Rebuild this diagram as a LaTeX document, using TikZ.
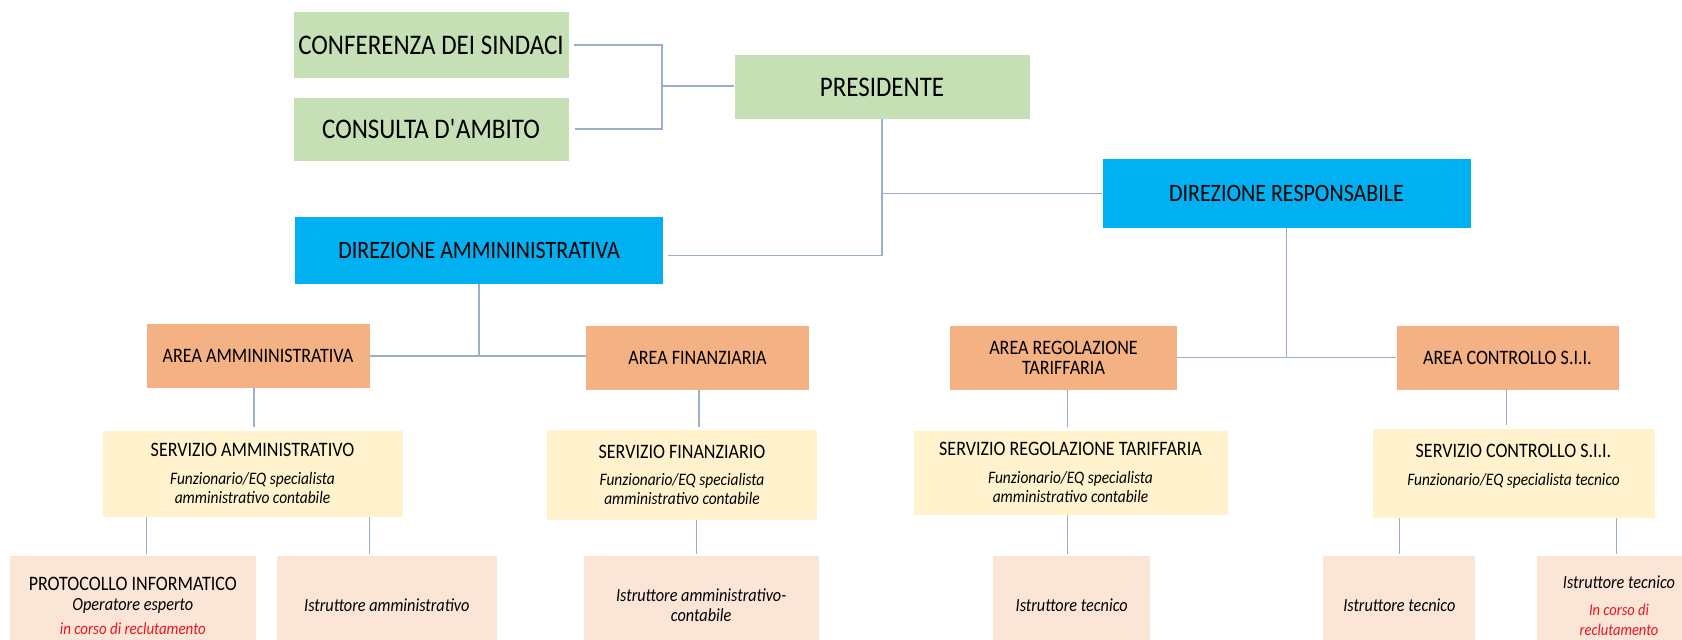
\documentclass[tikz,border=0pt]{standalone}
\usepackage{fontspec}
\setmainfont{Carlito}[FakeStretch=0.88]

\definecolor{verde}{HTML}{C5E0B4}
\definecolor{blu}{HTML}{00B0F0}
\definecolor{arancio}{HTML}{F4B183}
\definecolor{giallo}{HTML}{FFF2CC}
\definecolor{pesca}{HTML}{FBE5D6}
\definecolor{rosso}{HTML}{E8141E}
\definecolor{linea}{HTML}{9AAFC9}

\begin{document}
\begin{tikzpicture}[x=1pt, y=-1pt,
    box/.style={inner sep=0pt, align=center, text=black},
    verdebox/.style={box, fill=verde, minimum width=275, minimum height=66, font=\fontsize{28.4}{32}\selectfont},
    blubox/.style={box, fill=blu, minimum width=368, minimum height=67, font=\fontsize{25}{29}\selectfont},
    areabox/.style={box, fill=arancio, minimum width=223, minimum height=64, font=\fontsize{20.5}{20}\selectfont},
    servbox/.style={box, fill=giallo, minimum height=86, font=\fontsize{17.5}{19.3}\selectfont},
    ruolobox/.style={box, fill=pesca, minimum height=99, font=\fontsize{18.5}{20}\selectfont},
    link/.style={draw=linea, line width=1.1pt}]
    \fill[white] (0,0) rectangle (1682,640);
    \useasboundingbox (0,0) rectangle (1682,640);
    \clip (0,0) rectangle (1682,640);

    % organi
    \node[verdebox] (conf) at (431,45) {CONFERENZA DEI SINDACI};
    \node[verdebox, minimum height=63] (cons) at (431,129) {CONSULTA D\textquotesingle AMBITO};
    \node[verdebox, minimum width=295, minimum height=64] (pres) at (882,87) {PRESIDENTE};

    % direzioni
    \node[blubox] (diramm) at (479,250.5) {DIREZIONE AMMININISTRATIVA};
    \node[blubox, minimum height=69] (dirresp) at (1286.5,193.5) {DIREZIONE RESPONSABILE};

    % aree
    \node[areabox] (areaamm) at (258,356) {AREA AMMININISTRATIVA};
    \node[areabox] (areafin) at (697.5,357.5) {AREA FINANZIARIA};
    \node[areabox, minimum width=227] (areareg) at (1063.5,357.5) {AREA REGOLAZIONE\\TARIFFARIA};
    \node[areabox, minimum width=222] (areactrl) at (1507.5,358) {AREA CONTROLLO S.I.I.};

    % servizi
    \node[servbox, minimum width=300] (servamm) at (252.5,473.5) {{\fontsize{20.5}{21}\selectfont SERVIZIO AMMINISTRATIVO}\\[8pt]\textit{Funzionario/EQ specialista}\\\textit{amministrativo contabile}};
    \node[servbox, minimum width=270, minimum height=90] (servfin) at (682,475) {{\fontsize{20.5}{21}\selectfont SERVIZIO FINANZIARIO}\\[8pt]\textit{Funzionario/EQ specialista}\\\textit{amministrativo contabile}};
    \node[servbox, minimum width=314, minimum height=84] (servreg) at (1070.5,472.5) {{\fontsize{20.5}{21}\selectfont SERVIZIO REGOLAZIONE TARIFFARIA}\\[8pt]\textit{Funzionario/EQ specialista}\\\textit{amministrativo contabile}};
    \node[servbox, minimum width=282, minimum height=89] (servctrl) at (1513.5,473) {{\fontsize{20.5}{21}\selectfont SERVIZIO CONTROLLO S.I.I.}\\[8pt]\textit{Funzionario/EQ specialista tecnico}\\[-3pt]};

    % personale
    \node[ruolobox, minimum width=246] (prot) at (132.8,605.5) {{\fontsize{20.5}{21}\selectfont PROTOCOLLO INFORMATICO}\\\textit{Operatore esperto}\\[4pt]{\fontsize{17}{18}\selectfont\textcolor{rosso}{\textit{in corso di reclutamento}}}};
    \node[ruolobox, minimum width=220] (istramm) at (386.8,605.5) {\textit{Istruttore amministrativo}};
    \node[ruolobox, minimum width=235] (istrcont) at (701.2,605.5) {\textit{Istruttore amministrativo-}\\\textit{contabile}};
    \node[ruolobox, minimum width=157] (istrreg) at (1071.7,605.5) {\textit{Istruttore tecnico}};
    \node[ruolobox, minimum width=152] (istrctrl) at (1399.3,605.5) {\textit{Istruttore tecnico}};
    \node[ruolobox, minimum width=164] (istrnuovo) at (1619,605.5) {\textit{Istruttore tecnico}\\[7pt]{\fontsize{16.5}{18}\selectfont\textcolor{rosso}{\textit{In corso di}}}\\{\fontsize{16.5}{18}\selectfont\textcolor{rosso}{\textit{reclutamento}}}};

    % collegamenti
    \coordinate (jg) at (662,86);
    \draw[link, shorten <=5pt, shorten >=6pt] (conf.east) -| (jg) |- (cons.east);
    \draw[link] (jg) -- (jg -| pres.west);
    \draw[link, shorten >=5pt] (pres.south) |- ([yshift=-5pt]diramm.east);
    \draw[link] (pres.south |- dirresp.west) -- (dirresp.west);
    \draw[link] (diramm.south) -- (diramm.south |- areaamm.east);
    \draw[link] (areaamm.east) -- (areaamm.east -| areafin.west);
    \draw[link] (dirresp.south) -- (dirresp.south |- areareg.east);
    \draw[link] (areareg.east) -- (areareg.east -| areactrl.west);

    \foreach \a/\b/\s in {areaamm/servamm/-4, areafin/servfin/1.5, areareg/servreg/4, areactrl/servctrl/-1}
        \draw[link, shorten >=3pt] ([xshift=\s pt]\a.south) -- ([xshift=\s pt]\a.south |- \b.north);

    \foreach \a/\b/\s in {servamm/prot/14, servamm/istramm/-17, servfin/istrcont/-5, servreg/istrreg/-4, servctrl/istrctrl/0, servctrl/istrnuovo/-2.5}
        \draw[link, shorten >=2pt] ([xshift=\s pt]\b.north |- \a.south) -- ([xshift=\s pt]\b.north);

\end{tikzpicture}
\end{document}
